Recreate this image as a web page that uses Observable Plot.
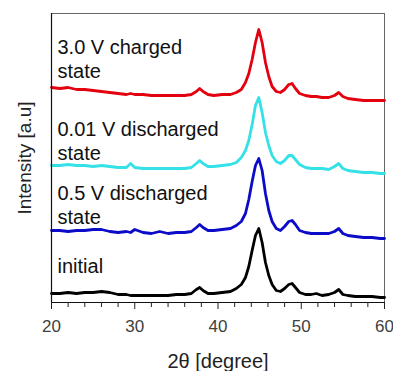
<!DOCTYPE html>
<html><head><meta charset="utf-8">
<script src="https://cdn.jsdelivr.net/npm/d3@7"></script>
<script src="https://cdn.jsdelivr.net/npm/@observablehq/plot@0.6"></script>
<style>body{margin:0;background:#fff}</style>
</head><body><div id="chart"></div>
<script>
// 2θ positions (degree)
const twoTheta = [20,21,22,23,24,25,26,27,28,29,29.5,30,31,32,33,34,35,36,36.8,37.4,37.8,38.2,38.8,39.5,40.5,41.5,42.2,42.8,43.3,43.7,44.1,44.5,44.9,45.3,45.7,46.1,46.5,47.0,47.5,48.0,48.5,48.9,49.3,49.8,50.5,51.2,51.8,52.5,53.3,54.0,54.5,55.0,55.6,56.5,57.5,58.5,59.5,60];
// intensities (a.u., stacked as plotted)
const initial = [9,9,10,9,10,10,11,10,8,8,7,7,7,7,7,7,8,8,9,13,15,12,9,9,10,11,14,18,25,36,52,67,74,60,40,27,18,12,11,14,18,19,15,10,8,8,9,7,8,10,13,8,7,6,6,6,5,5];
const discharged05 = [72,72,71,72,72,73,73,71,70,71,70,73,70,69,71,69,70,70,71,75,78,75,72,72,73,74,77,81,89,103,121,137,144,132,109,92,81,74,72,76,81,82,78,72,70,69,69,69,69,71,74,69,67,66,65,65,64,64];
const discharged001 = [137,137,138,137,137,136,137,136,135,135,139,135,134,134,134,134,134,134,135,139,142,139,136,136,137,138,140,145,152,162,178,197,205,190,170,157,147,141,139,142,147,147,143,138,135,134,134,134,133,136,139,134,132,131,130,130,129,129];
const charged30 = [215,214,215,213,213,212,211,210,209,208,209,208,208,207,207,207,207,207,208,211,214,211,208,207,208,208,210,213,220,229,243,260,273,260,240,226,216,211,210,213,218,219,214,209,207,206,206,205,205,207,210,206,204,203,202,202,202,202];
const seriesNames = ["initial","0.5 V discharged state","0.01 V discharged state","3.0 V charged state"];
const labelLines = ["initial","0.5 V discharged\nstate","0.01 V discharged\nstate","3.0 V charged\nstate"];
const xTicks = [20,30,40,50,60];
const xMinorTicks = [22,24,26,28,32,34,36,38,42,44,46,48,52,54,56,58];

// layout (not data)
const seriesColors = ["#000000","#0b0bc8","#33e1e6","#e3000f"];
const labelTopY = [47,120,184,266];
const labelX = 20.72;
const yTitlePos = {x: 16.75, y: 144.5};

const allSeries = [initial, discharged05, discharged001, charged30];
const rows = allSeries.flatMap((vals, i) => vals.map((v, j) => ({x: twoTheta[j], y: v, series: seriesNames[i]})));
const labels = labelLines.map((t, i) => ({text: t, x: labelX, y: labelTopY[i]}));

const font = "'Liberation Sans', Arial, sans-serif";
const chart = Plot.plot({
  width: 393, height: 371,
  marginLeft: 51, marginRight: 9, marginTop: 13, marginBottom: 69,
  style: {fontFamily: font, background: "#fff"},
  x: {domain: [20, 60], label: null},
  y: {domain: [0, 289], axis: null},
  color: {domain: seriesNames, range: seriesColors},
  marks: [
    Plot.frame({stroke: "#666"}),
    Plot.line(rows, {x: "x", y: "y", z: "series", stroke: "series", strokeWidth: 2.8, curve: "linear"}),
    Plot.ruleX([20], {stroke: "#111", strokeWidth: 1.2}),
    Plot.ruleY([0], {stroke: "#111", strokeWidth: 1.2}),
    Plot.axisX(xTicks, {tickSize: 7, tickPadding: 10, fontSize: 17, stroke: "#222", fill: "#404040", tickFormat: d => String(d), label: null}),
    Plot.axisX(xMinorTicks, {tickSize: 5, text: null, stroke: "#222", label: null}),
    Plot.text(labels, {x: "x", y: "y", text: "text", textAnchor: "start", lineAnchor: "top", lineHeight: 1.2, fontSize: 20, fill: "#111"}),
    Plot.text(["2θ [degree]"], {frameAnchor: "bottom", lineAnchor: "top", dy: 51, fontSize: 20, fill: "#222"}),
    Plot.text(["Intensity [a.u]"], {x: () => yTitlePos.x, y: () => yTitlePos.y, rotate: -90, textAnchor: "middle", lineAnchor: "middle", fontSize: 19, fill: "#222"})
  ]
});
document.getElementById("chart").appendChild(chart);
</script>
</body></html>
